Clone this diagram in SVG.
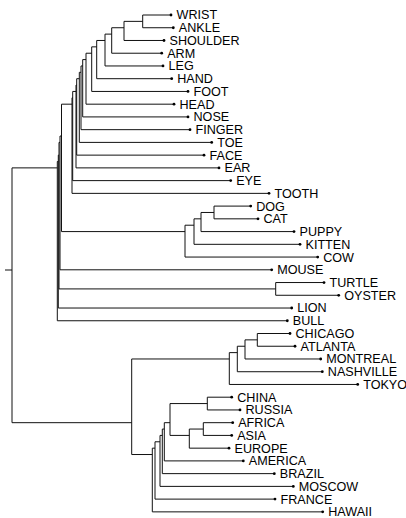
<svg xmlns="http://www.w3.org/2000/svg" width="406" height="518" viewBox="0 0 406 518">
<style>
.c path{fill:none;stroke:#111;stroke-width:1}
.n circle{fill:#000}
.n text{font-family:"Liberation Sans",Arial,sans-serif;font-size:12.6px;fill:#000}
</style>
<rect width="406" height="518" fill="#fff"/>
<g class="c" id="connectors">
<path d="M171 15 H142.7 V27.74 H173.3"/>
<path d="M142.7 21.37 H124 V40.48 H164"/>
<path d="M124 27.74 H111.7 V53.22 H161.7"/>
<path d="M111.7 34.11 H105 V65.96 H163"/>
<path d="M105 40.48 H96.7 V78.7 H171.7"/>
<path d="M96.7 46.85 H91.7 V91.44 H188"/>
<path d="M91.7 53.22 H86 V104.18 H174"/>
<path d="M86 59.59 H82.7 V116.92 H188"/>
<path d="M82.7 65.96 H81 V129.66 H190"/>
<path d="M81 72.33 H79.3 V142.4 H211.7"/>
<path d="M79.3 78.7 H76.7 V155.14 H204"/>
<path d="M76.7 85.07 H76 V167.88 H219"/>
<path d="M76 91.44 H72.7 V180.62 H230.7"/>
<path d="M72.7 97.81 H72 V193.36 H269"/>
<path d="M250.7 206.1 H214 V218.84 H258"/>
<path d="M214 212.47 H201 V231.58 H294"/>
<path d="M201 218.84 H194 V244.32 H300"/>
<path d="M194 225.21 H185 V257.06 H317.7"/>
<path d="M72 104.18 H61.5 V231.58 H185"/>
<path d="M61.5 136.03 H60 V269.8 H271.7"/>
<path d="M324 282.54 H275.7 V295.28 H338.7"/>
<path d="M60 142.4 H59 V288.91 H275.7"/>
<path d="M59 155.14 H58.3 V308.02 H291.7"/>
<path d="M58.3 161.51 H57.3 V320.76 H287.3"/>
<path d="M57.3 167.88 H12 V422.68 H131.7"/>
<path d="M5 270 H12"/>
<path d="M290 333.5 H257.3 V346.24 H295"/>
<path d="M257.3 339.87 H245 V358.98 H320.7"/>
<path d="M245 346.24 H237.3 V371.72 H322.3"/>
<path d="M237.3 352.61 H229.3 V384.46 H357.7"/>
<path d="M229.3 358.98 H131.7 V454.53 H152.3"/>
<path d="M231.7 397.2 H207.3 V409.94 H240"/>
<path d="M232.7 422.68 H203.3 V435.42 H231.7"/>
<path d="M203.3 429.05 H189.3 V448.16 H229"/>
<path d="M207.3 403.57 H170 V435.42 H189.3"/>
<path d="M170 422.68 H164.3 V460.9 H243.3"/>
<path d="M164.3 429.05 H162.3 V473.64 H274.3"/>
<path d="M162.3 435.42 H160 V486.38 H293.3"/>
<path d="M160 441.79 H155 V499.12 H275"/>
<path d="M155 448.16 H152.3 V511.86 H322.7"/>
</g>
<g class="n" id="wrist"><circle cx="171" cy="15" r="1.4"/><text x="176.5" y="19.4">WRIST</text></g>
<g class="n" id="ankle"><circle cx="173.3" cy="27.74" r="1.4"/><text x="178.8" y="32.1">ANKLE</text></g>
<g class="n" id="shoulder"><circle cx="164" cy="40.48" r="1.4"/><text x="169.5" y="44.9">SHOULDER</text></g>
<g class="n" id="arm"><circle cx="161.7" cy="53.22" r="1.4"/><text x="167.2" y="57.6">ARM</text></g>
<g class="n" id="leg"><circle cx="163" cy="65.96" r="1.4"/><text x="168.5" y="70.4">LEG</text></g>
<g class="n" id="hand"><circle cx="171.7" cy="78.7" r="1.4"/><text x="177.2" y="83.1">HAND</text></g>
<g class="n" id="foot"><circle cx="188" cy="91.44" r="1.4"/><text x="193.5" y="95.8">FOOT</text></g>
<g class="n" id="head"><circle cx="174" cy="104.18" r="1.4"/><text x="179.5" y="108.6">HEAD</text></g>
<g class="n" id="nose"><circle cx="188" cy="116.92" r="1.4"/><text x="193.5" y="121.3">NOSE</text></g>
<g class="n" id="finger"><circle cx="190" cy="129.66" r="1.4"/><text x="195.5" y="134.1">FINGER</text></g>
<g class="n" id="toe"><circle cx="211.7" cy="142.4" r="1.4"/><text x="217.2" y="146.8">TOE</text></g>
<g class="n" id="face"><circle cx="204" cy="155.14" r="1.4"/><text x="209.5" y="159.5">FACE</text></g>
<g class="n" id="ear"><circle cx="219" cy="167.88" r="1.4"/><text x="224.5" y="172.3">EAR</text></g>
<g class="n" id="eye"><circle cx="230.7" cy="180.62" r="1.4"/><text x="236.2" y="185">EYE</text></g>
<g class="n" id="tooth"><circle cx="269" cy="193.36" r="1.4"/><text x="274.5" y="197.8">TOOTH</text></g>
<g class="n" id="dog"><circle cx="250.7" cy="206.1" r="1.4"/><text x="256.2" y="210.5">DOG</text></g>
<g class="n" id="cat"><circle cx="258" cy="218.84" r="1.4"/><text x="263.5" y="223.2">CAT</text></g>
<g class="n" id="puppy"><circle cx="294" cy="231.58" r="1.4"/><text x="299.5" y="236">PUPPY</text></g>
<g class="n" id="kitten"><circle cx="300" cy="244.32" r="1.4"/><text x="305.5" y="248.7">KITTEN</text></g>
<g class="n" id="cow"><circle cx="317.7" cy="257.06" r="1.4"/><text x="323.2" y="261.5">COW</text></g>
<g class="n" id="mouse"><circle cx="271.7" cy="269.8" r="1.4"/><text x="277.2" y="274.2">MOUSE</text></g>
<g class="n" id="turtle"><circle cx="324" cy="282.54" r="1.4"/><text x="329.5" y="286.9">TURTLE</text></g>
<g class="n" id="oyster"><circle cx="338.7" cy="295.28" r="1.4"/><text x="344.2" y="299.7">OYSTER</text></g>
<g class="n" id="lion"><circle cx="291.7" cy="308.02" r="1.4"/><text x="297.2" y="312.4">LION</text></g>
<g class="n" id="bull"><circle cx="287.3" cy="320.76" r="1.4"/><text x="292.8" y="325.2">BULL</text></g>
<g class="n" id="chicago"><circle cx="290" cy="333.5" r="1.4"/><text x="295.5" y="337.9">CHICAGO</text></g>
<g class="n" id="atlanta"><circle cx="295" cy="346.24" r="1.4"/><text x="300.5" y="350.6">ATLANTA</text></g>
<g class="n" id="montreal"><circle cx="320.7" cy="358.98" r="1.4"/><text x="326.2" y="363.4">MONTREAL</text></g>
<g class="n" id="nashville"><circle cx="322.3" cy="371.72" r="1.4"/><text x="327.8" y="376.1">NASHVILLE</text></g>
<g class="n" id="tokyo"><circle cx="357.7" cy="384.46" r="1.4"/><text x="363.2" y="388.9">TOKYO</text></g>
<g class="n" id="china"><circle cx="231.7" cy="397.2" r="1.4"/><text x="237.2" y="401.6">CHINA</text></g>
<g class="n" id="russia"><circle cx="240" cy="409.94" r="1.4"/><text x="245.5" y="414.3">RUSSIA</text></g>
<g class="n" id="africa"><circle cx="232.7" cy="422.68" r="1.4"/><text x="238.2" y="427.1">AFRICA</text></g>
<g class="n" id="asia"><circle cx="231.7" cy="435.42" r="1.4"/><text x="237.2" y="439.8">ASIA</text></g>
<g class="n" id="europe"><circle cx="229" cy="448.16" r="1.4"/><text x="234.5" y="452.6">EUROPE</text></g>
<g class="n" id="america"><circle cx="243.3" cy="460.9" r="1.4"/><text x="248.8" y="465.3">AMERICA</text></g>
<g class="n" id="brazil"><circle cx="274.3" cy="473.64" r="1.4"/><text x="279.8" y="478">BRAZIL</text></g>
<g class="n" id="moscow"><circle cx="293.3" cy="486.38" r="1.4"/><text x="298.8" y="490.8">MOSCOW</text></g>
<g class="n" id="france"><circle cx="275" cy="499.12" r="1.4"/><text x="280.5" y="503.5">FRANCE</text></g>
<g class="n" id="hawaii"><circle cx="322.7" cy="511.86" r="1.4"/><text x="328.2" y="516.3">HAWAII</text></g>
</svg>
